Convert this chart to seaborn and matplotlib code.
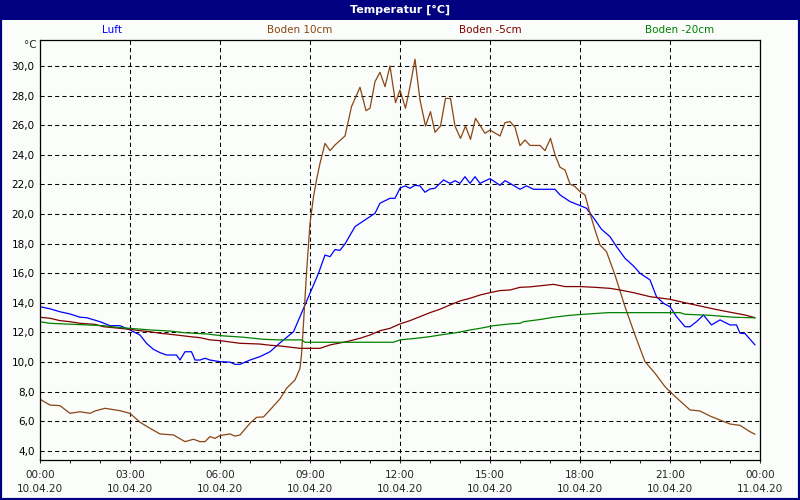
import matplotlib
matplotlib.use("Agg")
import matplotlib.pyplot as plt
import seaborn as sns
import pandas as pd
import numpy as np
from matplotlib.patches import Rectangle
from matplotlib.ticker import FuncFormatter

sns.set_style("white")
plt.rcParams['font.family'] = ['DejaVu Sans']

# ---------------- data (minutes since midnight, °C) ----------------
luft_min = [0, 20, 40, 60, 80, 93, 120, 140, 160, 180, 200, 213, 227, 240, 253, 273,
            280, 290, 303, 310, 320, 330, 340, 360, 380, 390, 400, 420, 440, 460, 480,
            507, 520, 540, 557, 570, 580, 590, 600, 610, 630, 650, 670, 680, 700, 710,
            720, 730, 740, 750, 760, 770, 780, 790, 807, 820, 830, 840, 850, 860, 870,
            880, 900, 920, 930, 940, 960, 973, 987, 1000, 1030, 1040, 1060, 1080, 1093,
            1110, 1123, 1140, 1153, 1170, 1187, 1200, 1220, 1233, 1247, 1260, 1273, 1290,
            1300, 1313, 1327, 1343, 1360, 1380, 1393, 1400, 1410, 1430]
luft_val = [13.74, 13.6, 13.4, 13.25, 13.03, 13.0, 12.73, 12.46, 12.46, 12.17, 11.83, 11.27,
            10.86, 10.64, 10.48, 10.48, 10.14, 10.7, 10.7, 10.14, 10.14, 10.26, 10.14, 10.03,
            10.0, 9.85, 9.85, 10.14, 10.37, 10.7, 11.3, 12.05, 13.07, 14.65, 16.0, 17.23,
            17.12, 17.6, 17.55, 17.98, 19.15, 19.6, 20.05, 20.73, 21.06, 21.06, 21.74, 21.9,
            21.74, 21.94, 21.9, 21.47, 21.69, 21.74, 22.3, 22.07, 22.25, 22.07, 22.52, 22.07,
            22.52, 22.07, 22.39, 21.94, 22.25, 22.07, 21.67, 21.9, 21.67, 21.67, 21.67, 21.29,
            20.84, 20.57, 20.39, 19.6, 18.97, 18.47, 17.8, 17.01, 16.49, 16.0, 15.55, 14.42,
            13.97, 13.74, 13.07, 12.39, 12.39, 12.73, 13.18, 12.51, 12.85, 12.51, 12.51, 11.95,
            11.93, 11.16]

boden10_min = [0, 20, 40, 60, 80, 100, 110, 130, 160, 180, 200, 220, 240, 267, 290, 307,
               320, 330, 340, 350, 360, 380, 390, 400, 420, 433, 447, 460, 480, 493, 510,
               520, 523, 527, 533, 540, 547, 553, 560, 570, 580, 590, 610, 623, 640, 652,
               660, 670, 680, 690, 700, 711, 720, 731, 740, 750, 760, 771, 781, 790, 801,
               811, 821, 830, 841, 851, 861, 871, 890, 900, 920, 930, 940, 950, 960, 970,
               980, 1000, 1010, 1021, 1030, 1040, 1050, 1060, 1070, 1080, 1090, 1100, 1110,
               1120, 1133, 1150, 1170, 1190, 1210, 1230, 1250, 1260, 1280, 1300, 1320, 1340,
               1360, 1380, 1400, 1420, 1430]
boden10_val = [7.49, 7.1, 7.06, 6.54, 6.65, 6.54, 6.7, 6.88, 6.72, 6.54, 5.94, 5.53, 5.15,
               5.08, 4.63, 4.79, 4.63, 4.63, 4.97, 4.85, 5.04, 5.15, 5.0, 5.08, 5.87, 6.27,
               6.3, 6.77, 7.52, 8.23, 8.79, 9.58, 10.5, 12.62, 16.0, 19.37, 21.17, 22.3,
               23.42, 24.77, 24.28, 24.66, 25.27, 27.25, 28.56, 26.98, 27.14, 28.94, 29.57,
               28.6, 30.0, 27.52, 28.37, 27.14, 28.6, 30.45, 27.7, 25.94, 26.91, 25.52, 25.94,
               27.81, 27.8, 25.94, 25.11, 25.94, 25.04, 26.46, 25.45, 25.67, 25.27, 26.17,
               26.24, 25.86, 24.62, 25.0, 24.63, 24.63, 24.28, 25.11, 24.0, 23.16, 22.97,
               22.03, 21.85, 21.51, 21.29, 20.05, 18.92, 17.91, 17.46, 15.88, 13.74, 11.83,
               10.03, 9.25, 8.34, 8.0, 7.38, 6.77, 6.7, 6.36, 6.09, 5.82, 5.73, 5.3, 5.13]

boden5_min = [0, 20, 40, 60, 80, 110, 127, 160, 180, 200, 220, 240, 273, 300, 320, 340,
              360, 380, 400, 440, 460, 480, 520, 560, 580, 613, 640, 660, 680, 700, 720,
              740, 760, 780, 800, 820, 840, 860, 880, 900, 920, 940, 960, 980, 1027, 1050,
              1080, 1110, 1140, 1160, 1187, 1220, 1260, 1290, 1320, 1350, 1380, 1410, 1430]
boden5_val = [13.03, 12.96, 12.8, 12.73, 12.62, 12.55, 12.39, 12.28, 12.21, 12.12, 12.05,
              11.95, 11.83, 11.72, 11.65, 11.5, 11.45, 11.36, 11.27, 11.22, 11.14, 11.09,
              10.93, 10.93, 11.16, 11.38, 11.61, 11.83, 12.12, 12.28, 12.58, 12.8, 13.07,
              13.34, 13.57, 13.86, 14.13, 14.31, 14.53, 14.69, 14.83, 14.87, 15.05, 15.08,
              15.25, 15.1, 15.1, 15.05, 14.98, 14.87, 14.69, 14.42, 14.24, 14.01, 13.79,
              13.57, 13.37, 13.18, 13.0]

boden20_min = [0, 20, 67, 127, 160, 180, 220, 260, 287, 333, 367, 407, 447, 480, 523, 530,
               707, 720, 753, 780, 800, 833, 860, 880, 907, 940, 960, 967, 1003, 1027, 1060,
               1087, 1137, 1280, 1290, 1340, 1387, 1430]
boden20_val = [12.73, 12.62, 12.55, 12.46, 12.33, 12.28, 12.17, 12.1, 11.99, 11.9, 11.77,
               11.68, 11.54, 11.5, 11.5, 11.34, 11.34, 11.5, 11.61, 11.72, 11.83, 11.99,
               12.17, 12.28, 12.46, 12.58, 12.62, 12.73, 12.89, 13.03, 13.16, 13.23, 13.34,
               13.34, 13.23, 13.16, 13.03, 12.99]

series_names = ["Luft", "Boden 10cm", "Boden -5cm", "Boden -20cm"]
series_colors = ["#0000FF", "#8B4513", "#800000", "#008000"]
x_tick_hours = [0, 3, 6, 9, 12, 15, 18, 21, 24]
x_tick_labels = ["00:00\n10.04.20", "03:00\n10.04.20", "06:00\n10.04.20", "09:00\n10.04.20",
                 "12:00\n10.04.20", "15:00\n10.04.20", "18:00\n10.04.20", "21:00\n10.04.20",
                 "00:00\n11.04.20"]
y_ticks = [4, 6, 8, 10, 12, 14, 16, 18, 20, 22, 24, 26, 28, 30]
title = "Temperatur [°C]"
unit = "°C"

BG = "#FAFDFA"
NAVY = "#000080"

fig = plt.figure(figsize=(8, 5), dpi=100, facecolor=BG)
ax = fig.add_axes([0.05, 0.08, 0.90, 0.84])
ax.set_facecolor(BG)

data = [(luft_min, luft_val), (boden10_min, boden10_val),
        (boden5_min, boden5_val), (boden20_min, boden20_val)]
for (mins, vals), name, col in zip(data, series_names, series_colors):
    df = pd.DataFrame({"h": np.array(mins) / 60.0, "v": vals})
    sns.lineplot(data=df, x="h", y="v", ax=ax, color=col, lw=0.9,
                 estimator=None, sort=False, legend=False)

ax.set_xlim(0, 24)
ax.set_ylim(3.39, 31.75)
ax.set_xlabel("")
ax.set_ylabel("")
ax.set_yticks(y_ticks)
ax.yaxis.set_major_formatter(FuncFormatter(lambda v, _: f"{v:.1f}".replace(".", ",")))
ax.set_xticks(x_tick_hours)
ax.set_xticklabels(x_tick_labels, linespacing=1.55)
ax.set_xticks(range(0, 25), minor=True)
ax.grid(True, which='major', color='black', ls=(0, (4, 3)), lw=0.75)

ax.tick_params(axis='y', length=0, pad=4, labelsize=7.5, colors='black')
ax.tick_params(axis='x', which='major', length=2.5, width=0.75, direction='out',
               pad=4.5, labelsize=7.5, bottom=True)
ax.tick_params(axis='x', which='minor', length=2.5, width=0.75, direction='out', bottom=True)
for s in ax.spines.values():
    s.set_visible(True)
    s.set_color('black')
    s.set_linewidth(0.9)

# title bar
fig.patches.append(Rectangle((0, 1 - 20 / 500), 1, 20 / 500, transform=fig.transFigure,
                             facecolor=NAVY, edgecolor='none', zorder=0))
fig.text(0.5, 1 - 10 / 500, title, color='white', fontsize=8, fontweight='bold',
         ha='center', va='center')
# border
fig.patches.append(Rectangle((0, 0), 1, 1, transform=fig.transFigure, fill=False,
                             edgecolor=NAVY, lw=3, zorder=5))

# series labels
label_x = [112, 300, 490, 680]
for name, col, xp in zip(series_names, series_colors, label_x):
    fig.text(xp / 800, 1 - 30 / 500, name, color=col, fontsize=7.5, ha='center', va='center')

fig.text(37 / 800, 1 - 45 / 500, unit, fontsize=7.5, ha='right', va='center')

fig.savefig("out.png", dpi=100, facecolor=BG)
